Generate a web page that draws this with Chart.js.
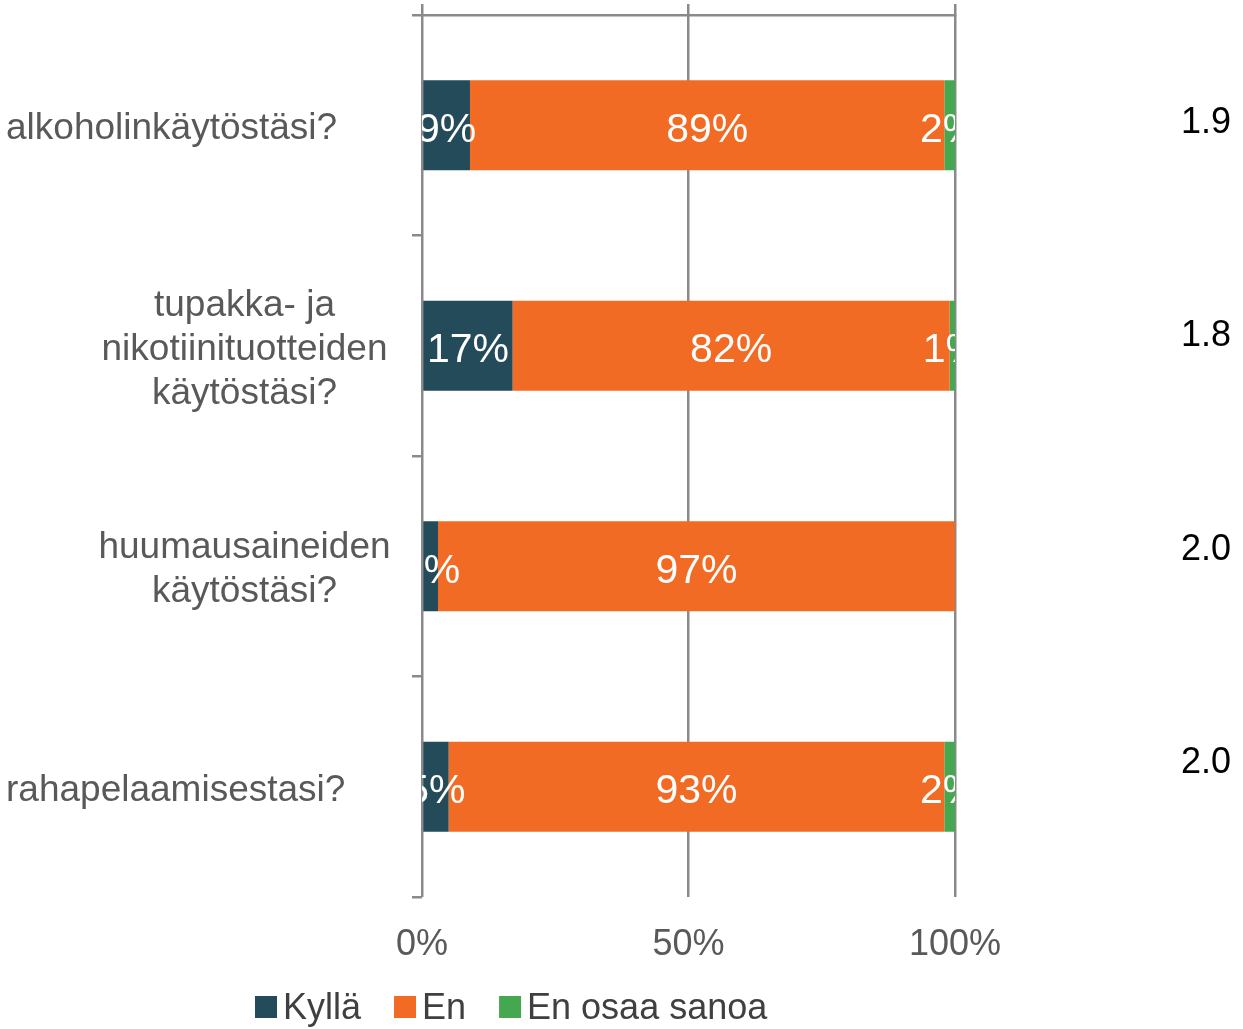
<!DOCTYPE html>
<html>
<head>
<meta charset="utf-8">
<script src="https://cdn.jsdelivr.net/npm/chart.js@4/dist/chart.umd.min.js"></script>
<style>
  html, body { margin: 0; padding: 0; background: #ffffff; }
  #wrap { width: 1243px; height: 1029px; position: relative; }
</style>
</head>
<body>
<div id="wrap"><canvas id="c"></canvas></div>
<script>
// ---- data ----
const categories = [
  ["alkoholinkäytöstäsi?"],
  ["tupakka- ja", "nikotiinituotteiden", "käytöstäsi?"],
  ["huumausaineiden", "käytöstäsi?"],
  ["rahapelaamisestasi?"]
];
const seriesNames = ["Kyllä", "En", "En osaa sanoa"];
const kyllaValues = [9, 17, 3, 5];
const enValues = [89, 82, 97, 93];
const eosValues = [2, 1, 0, 2];
const meanValues = [1.9, 1.8, 2.0, 2.0];
const xTickValues = [0, 50, 100];

// ---- style ----
const FONT = "'Liberation Sans', Arial, sans-serif";
const colors = ["#234B5A", "#F26B24", "#45A851"];
const gridColor = "#8A8A8A";
const labelGrey = "#595959";

const dataLabelPlugin = {
  id: 'dataLabels',
  afterDatasetsDraw(chart) {
    const ctx = chart.ctx, a = chart.chartArea;
    ctx.save();
    ctx.beginPath();
    ctx.rect(a.left, a.top, a.right - a.left, a.bottom - a.top);
    ctx.clip();
    ctx.fillStyle = '#ffffff';
    ctx.font = '41px ' + FONT;
    ctx.textAlign = 'center';
    ctx.textBaseline = 'middle';
    chart.data.datasets.forEach((ds, di) => {
      const meta = chart.getDatasetMeta(di);
      meta.data.forEach((el, i) => {
        const v = ds.data[i];
        if (!v) return;
        const cx = (el.x + el.base) / 2;
        ctx.fillText(v + '%', cx, el.y + 5);
      });
    });
    ctx.restore();
  }
};

const categoryLabelPlugin = {
  id: 'catLabels',
  afterDraw(chart) {
    const ctx = chart.ctx;
    const ys = chart.scales.y;
    const boxWidth = 305;
    const boxRight = ys.right - 25;
    const cx = boxRight - boxWidth / 2;
    const lh = 44;
    ctx.save();
    ctx.fillStyle = labelGrey;
    ctx.font = '37px ' + FONT;
    ctx.textBaseline = 'middle';
    categories.forEach((lines, i) => {
      const yc = ys.getPixelForValue(i) + 4;
      const y0 = yc - (lines.length - 1) * lh / 2;
      lines.forEach((ln, k) => {
        const w = ctx.measureText(ln).width;
        if (w > boxWidth) {
          ctx.textAlign = 'left';
          ctx.fillText(ln, 6, y0 + k * lh);
        } else {
          ctx.textAlign = 'center';
          ctx.fillText(ln, cx, y0 + k * lh);
        }
      });
    });
    ctx.restore();
  }
};

const meanPlugin = {
  id: 'means',
  afterDraw(chart) {
    const ctx = chart.ctx, a = chart.chartArea;
    const band = (a.bottom - a.top) / categories.length;
    ctx.save();
    ctx.fillStyle = '#000000';
    ctx.font = '36px ' + FONT;
    ctx.textAlign = 'right';
    ctx.textBaseline = 'middle';
    meanValues.forEach((m, i) => {
      const y = a.top + 108 + i * band * 0.968;
      ctx.fillText(m.toFixed(1), chart.width - 12, y);
    });
    ctx.restore();
  }
};

const legendPlugin = {
  id: 'customLegend',
  afterDraw(chart) {
    const ctx = chart.ctx;
    let x = 255;
    const yc = 1007;
    const box = 22;
    ctx.save();
    ctx.font = '36px ' + FONT;
    ctx.textBaseline = 'middle';
    ctx.textAlign = 'left';
    seriesNames.forEach((name, i) => {
      ctx.fillStyle = colors[i];
      ctx.fillRect(x, yc - box / 2, box, box);
      ctx.fillStyle = '#404040';
      ctx.fillText(name, x + box + 6, yc + 2);
      x += box + 6 + ctx.measureText(name).width + 33;
    });
    ctx.restore();
  }
};

new Chart(document.getElementById('c'), {
  type: 'bar',
  data: {
    labels: categories,
    datasets: [
      { label: seriesNames[0], data: kyllaValues, backgroundColor: colors[0] },
      { label: seriesNames[1], data: enValues, backgroundColor: colors[1] },
      { label: seriesNames[2], data: eosValues, backgroundColor: colors[2] }
    ]
  },
  options: {
    indexAxis: 'y',
    responsive: true,
    maintainAspectRatio: false,
    animation: false,
    barPercentage: 0.408,
    categoryPercentage: 1.0,
    layout: { padding: { top: 4, right: 288, left: 0, bottom: 0 } },
    plugins: { legend: { display: false }, tooltip: { enabled: false } },
    scales: {
      x: {
        type: 'linear', position: 'bottom', stacked: true, min: 0, max: 100,
        afterBuildTicks(s) { s.ticks = xTickValues.map(v => ({ value: v })); },
        ticks: {
          stepSize: 50, padding: 26, color: labelGrey,
          font: { size: 36, family: FONT },
          callback: v => v + '%', maxRotation: 0
        },
        grid: { color: gridColor, lineWidth: 2.5, drawTicks: false },
        border: { display: false },
        afterFit(s) { s.height = 132; }
      },
      x2: {
        type: 'linear', position: 'top', min: 0, max: 100,
        afterBuildTicks(s) { s.ticks = xTickValues.map(v => ({ value: v })); },
        ticks: { display: false },
        grid: { color: gridColor, lineWidth: 2.5, drawOnChartArea: false, drawTicks: true, tickLength: 11 },
        border: { display: true, color: gridColor, width: 2.5 },
        afterFit(s) { s.height = 11; }
      },
      y: {
        type: 'category', stacked: true, offset: true,
        ticks: { display: false },
        grid: { offset: true, color: gridColor, lineWidth: 2.5, drawOnChartArea: false, drawTicks: true, tickLength: 10 },
        border: { display: false },
        afterFit(s) { s.width = 422; }
      }
    }
  },
  plugins: [dataLabelPlugin, categoryLabelPlugin, meanPlugin, legendPlugin]
});
</script>
</body>
</html>
